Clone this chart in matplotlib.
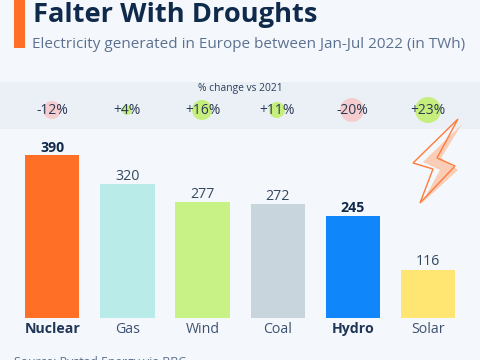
import matplotlib.pyplot as plt
from matplotlib.patches import Rectangle, Circle, Polygon

categories = ['Nuclear', 'Gas', 'Wind', 'Coal', 'Hydro', 'Solar']
values = [390, 320, 277, 272, 245, 116]
bar_colors = ['#ff6f26', '#b9ece8', '#c9f286', '#c8d5dc', '#0f87fb', '#ffe673']
bold_bars = ['Nuclear', 'Hydro']
change_labels = ['-12%', '+4%', '+16%', '+11%', '-20%', '+23%']
change_radius = [9, 5, 10, 8, 12, 13]
change_x = [52, 127, 202, 277, 352, 428]
label_x = [52, 127, 203, 277, 352, 428]

DARK = '#0f2a4a'
MID = '#5b7190'
BG = '#f4f7fb'

plt.rcParams['font.family'] = ['Open Sans', 'DejaVu Sans']

fig = plt.figure(figsize=(4.8, 3.6), dpi=100, facecolor=BG)

# overlay in pixel coords for all the decoration
bg = fig.add_axes([0, 0, 1, 1])
bg.set_xlim(0, 480)
bg.set_ylim(360, 0)
bg.axis('off')

bg.add_patch(Rectangle((14, 0), 11, 48, color='#ff6f26', lw=0))
bg.text(33, 22, 'Falter With Droughts', fontsize=19.6, fontweight='bold', color=DARK, va='baseline')
bg.text(32, 48, 'Electricity generated in Europe between Jan-Jul 2022 (in TWh)', fontsize=11, color=MID, va='baseline')

bg.add_patch(Rectangle((0, 82), 480, 47, color='#ebf0f6', lw=0))
bg.text(240, 89, '% change vs 2021', fontsize=7.4, color='#2b3f5c', ha='center', va='center')

for x, lx, r, lab in zip(change_x, label_x, change_radius, change_labels):
    c = '#f6cdcf' if lab.startswith('-') else '#c6ee7c'
    bg.add_patch(Circle((x, 110), r, color=c, lw=0))
    bg.text(lx, 110.5, lab, fontsize=10, color='#2b3a55', ha='center', va='center')

# lightning bolt, shadow is narrower than the outline
bolt = [(458, 119), (413, 163), (433, 169), (420, 203), (455, 166), (437, 158)]
shadow = [(462, 124), (423, 162), (440, 170), (422, 203), (458, 170), (441, 158)]
bg.add_patch(Polygon(shadow, closed=True, color='#f9cdb6', lw=0))
bg.add_patch(Polygon(bolt, closed=True, fill=False, edgecolor='#ff7b3a', lw=1))

bg.text(14, 366, 'Source: Rystad Energy via BBC', fontsize=8.8, color=MID, va='baseline')

# bars, zero line at y=318, 75.2 px between centres
ax = fig.add_axes([(52.2 - 0.5 * 75.2 - 0) / 480, (360 - 318) / 360, 6 * 75.2 / 480, 168 / 360])
ax.patch.set_alpha(0)
ax.set_xlim(-0.5, 5.5)
ax.set_ylim(0, 168 / 0.418)
for s in ax.spines.values():
    s.set_visible(False)

pos = list(range(len(categories)))
ax.bar(pos, values, width=0.725, color=bar_colors)
for p, v, name in zip(pos, values, categories):
    heavy = name in bold_bars
    ax.text(p, v + 1, str(v), ha='center', va='bottom', fontsize=10.2,
            fontweight='bold' if heavy else 'normal', color=DARK if heavy else '#33475f')

ax.set_xticks(pos)
ax.set_xticklabels(categories, fontsize=10.2, color='#3d5170')
for tick, name in zip(ax.get_xticklabels(), categories):
    if name in bold_bars:
        tick.set_fontweight('bold')
        tick.set_color('#1f3656')
ax.tick_params(axis='x', length=0, pad=3)
ax.set_yticks([])

fig.savefig('out.png', dpi=100, facecolor=BG)
